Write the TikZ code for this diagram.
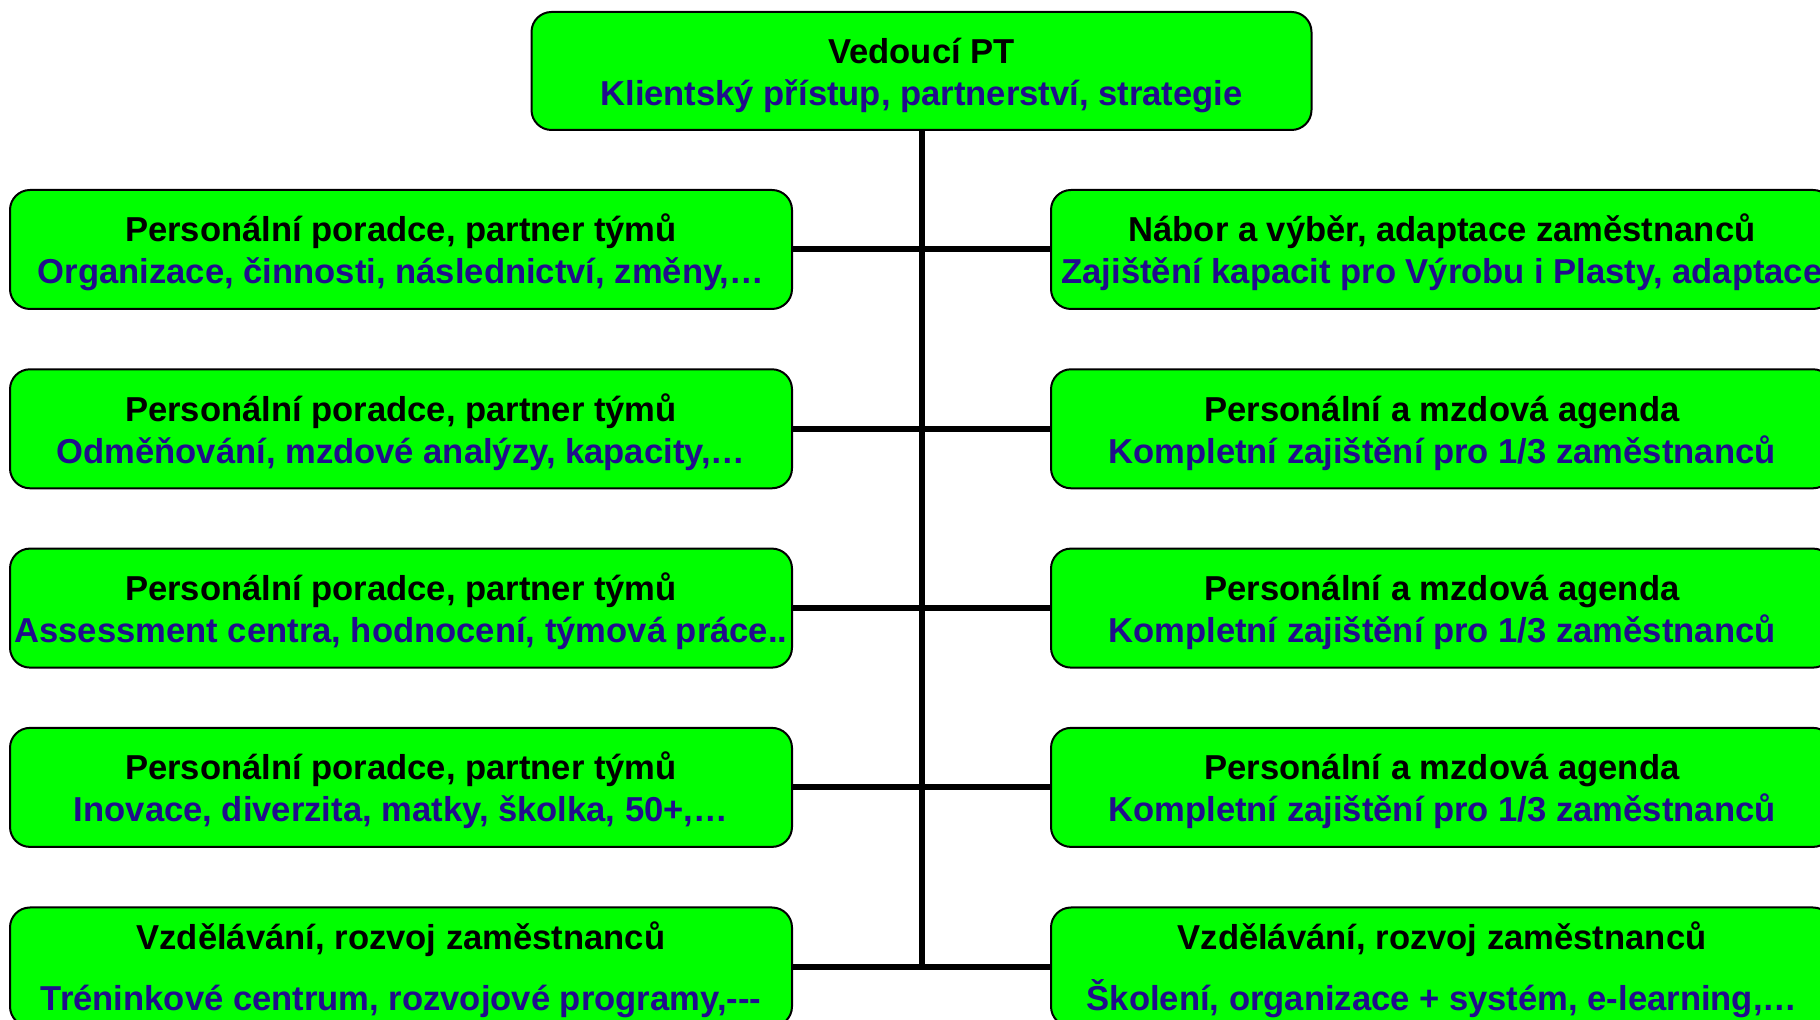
\documentclass[tikz,border=0pt]{standalone}
\usepackage{fontspec}
\setmainfont{Liberation Sans}
\usepackage{xcolor}
\usetikzlibrary{positioning}

\definecolor{boxgreen}{rgb}{0.0,1.0,0.0}
\definecolor{subblue}{rgb}{0.13,0.05,0.55}

\tikzset{
  ptbox/.style={draw=black, line width=2bp, fill=boxgreen, rounded corners=20bp,
    minimum width=782bp, minimum height=119bp, inner sep=0pt, align=center,
    font=\bfseries\fontsize{34.6bp}{42bp}\selectfont},
  ptline/.style={line width=6bp, draw=black}
}
\newcommand{\sub}[1]{\textcolor{subblue}{#1}}
\newcommand{\ptstrut}{\rule{0pt}{34bp}}

\begin{document}
\begin{tikzpicture}[line join=miter]
  \useasboundingbox (0bp,0bp) rectangle (1820bp,1020bp);
  \clip (0bp,0bp) rectangle (1820bp,1020bp);
%%
  % Node: head
  \node[ptbox, minimum width=780bp, minimum height=118bp] (head) at (921.5bp,949.0bp)
    {\ptstrut Vedoucí PT\\\sub{Klientský přístup, partnerství, strategie}};
  % Node: L1 .. L5
  \node[ptbox] (L1) at (401.0bp,770.5bp)
    {\ptstrut Personální poradce, partner týmů\\\sub{Organizace, činnosti, následnictví, změny,…}};
  \node[ptbox] (L2) at (401.0bp,591.2bp)
    {\ptstrut Personální poradce, partner týmů\\\sub{Odměňování, mzdové analýzy, kapacity,…}};
  \node[ptbox] (L3) at (401.0bp,411.9bp)
    {\ptstrut Personální poradce, partner týmů\\\sub{Assessment centra, hodnocení, týmová práce..}};
  \node[ptbox] (L4) at (401.0bp,232.6bp)
    {\ptstrut Personální poradce, partner týmů\\\sub{Inovace, diverzita, matky, školka, 50+,…}};
  \node[ptbox] (L5) at (401.0bp,53.0bp)
    {\ptstrut Vzdělávání, rozvoj zaměstnanců\\[19bp]\sub{Tréninkové centrum, rozvojové programy,-{}-{}-}};
  % Node: R1 .. R5
  \node[ptbox] (R1) at (1442.0bp,770.5bp)
    {\ptstrut Nábor a výběr, adaptace zaměstnanců\\\sub{Zajištění kapacit pro Výrobu i Plasty, adaptace}};
  \node[ptbox] (R2) at (1442.0bp,591.2bp)
    {\ptstrut Personální a mzdová agenda\\\sub{Kompletní zajištění pro 1/3 zaměstnanců}};
  \node[ptbox] (R3) at (1442.0bp,411.9bp)
    {\ptstrut Personální a mzdová agenda\\\sub{Kompletní zajištění pro 1/3 zaměstnanců}};
  \node[ptbox] (R4) at (1442.0bp,232.6bp)
    {\ptstrut Personální a mzdová agenda\\\sub{Kompletní zajištění pro 1/3 zaměstnanců}};
  \node[ptbox] (R5) at (1442.0bp,53.0bp)
    {\ptstrut Vzdělávání, rozvoj zaměstnanců\\[19bp]\sub{Školení, organizace + systém, e-learning,…}};
%%
  % Edge: head -> trunk
  \draw[ptline] (head.south) -- (head.south |- L5.east);
  % Edge: L -> R
  \foreach \i in {1,...,5}
    \draw[ptline] (L\i.east) -- (R\i.west);
%
\end{tikzpicture}
\end{document}
